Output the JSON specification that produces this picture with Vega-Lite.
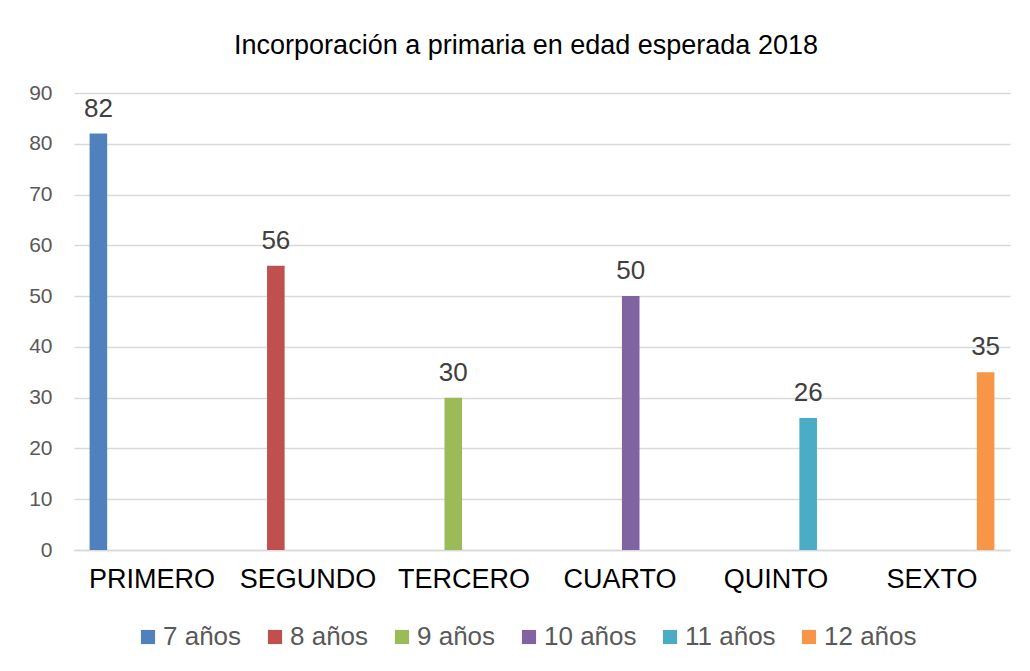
{
  "$schema": "https://vega.github.io/schema/vega-lite/v6.json",
  "autosize": {"type": "none"},
  "width": 936,
  "height": 457,
  "padding": {"left": 74, "top": 93, "right": 20, "bottom": 121},
  "background": "white",
  "title": {
    "text": "Incorporación a primaria en edad esperada 2018",
    "font": "Liberation Sans",
    "fontSize": 27,
    "fontWeight": "normal",
    "color": "#000000",
    "anchor": "middle",
    "dx": -16,
    "offset": 22
  },
  "data": {
    "values": [
      {"grado": "PRIMERO", "edad": "7 años", "valor": 82},
      {"grado": "SEGUNDO", "edad": "8 años", "valor": 56},
      {"grado": "TERCERO", "edad": "9 años", "valor": 30},
      {"grado": "CUARTO", "edad": "10 años", "valor": 50},
      {"grado": "QUINTO", "edad": "11 años", "valor": 26},
      {"grado": "SEXTO", "edad": "12 años", "valor": 35}
    ]
  },
  "encoding": {
    "x": {
      "field": "grado",
      "type": "nominal",
      "sort": ["PRIMERO", "SEGUNDO", "TERCERO", "CUARTO", "QUINTO", "SEXTO"],
      "scale": {"paddingInner": 0.2, "paddingOuter": 0.1},
      "axis": {
        "title": null,
        "labelAngle": 0,
        "labelFont": "Liberation Sans",
        "labelFontSize": 27,
        "labelColor": "#000000",
        "labelPadding": 16,
        "ticks": false,
        "domainColor": "#D9D9D9",
        "domainWidth": 1.5,
        "grid": false
      }
    },
    "xOffset": {
      "field": "edad",
      "type": "nominal",
      "scale": {
        "domain": ["7 años", "8 años", "9 años", "10 años", "11 años", "12 años"],
        "paddingInner": 0.18,
        "paddingOuter": 0
      }
    },
    "y": {
      "field": "valor",
      "type": "quantitative",
      "scale": {"domain": [0, 90], "nice": false},
      "axis": {
        "title": null,
        "values": [0, 10, 20, 30, 40, 50, 60, 70, 80, 90],
        "labelFont": "Liberation Sans",
        "labelFontSize": 21,
        "labelColor": "#595959",
        "labelPadding": 22,
        "ticks": false,
        "domain": false,
        "gridColor": "#D9D9D9",
        "gridWidth": 1.5
      }
    }
  },
  "layer": [
    {
      "mark": {"type": "bar"},
      "encoding": {
        "color": {
          "field": "edad",
          "type": "nominal",
          "scale": {
            "domain": ["7 años", "8 años", "9 años", "10 años", "11 años", "12 años"],
            "range": ["#4F81BD", "#C0504D", "#9BBB59", "#8064A2", "#4BACC6", "#F79646"]
          },
          "legend": {
            "title": null,
            "orient": "none",
            "legendX": 61,
            "legendY": 531,
            "direction": "horizontal",
            "symbolType": "square",
            "symbolSize": 200,
            "symbolStrokeWidth": 0,
            "labelFont": "Liberation Sans",
            "labelFontSize": 26,
            "labelColor": "#595959",
            "labelOffset": 2,
            "columnPadding": 20
          }
        }
      }
    },
    {
      "mark": {
        "type": "text",
        "baseline": "alphabetic",
        "dy": -17,
        "font": "Liberation Sans",
        "fontSize": 26,
        "color": "#404040"
      },
      "encoding": {
        "text": {"field": "valor", "type": "quantitative"}
      }
    }
  ],
  "config": {
    "view": {"stroke": null}
  }
}
